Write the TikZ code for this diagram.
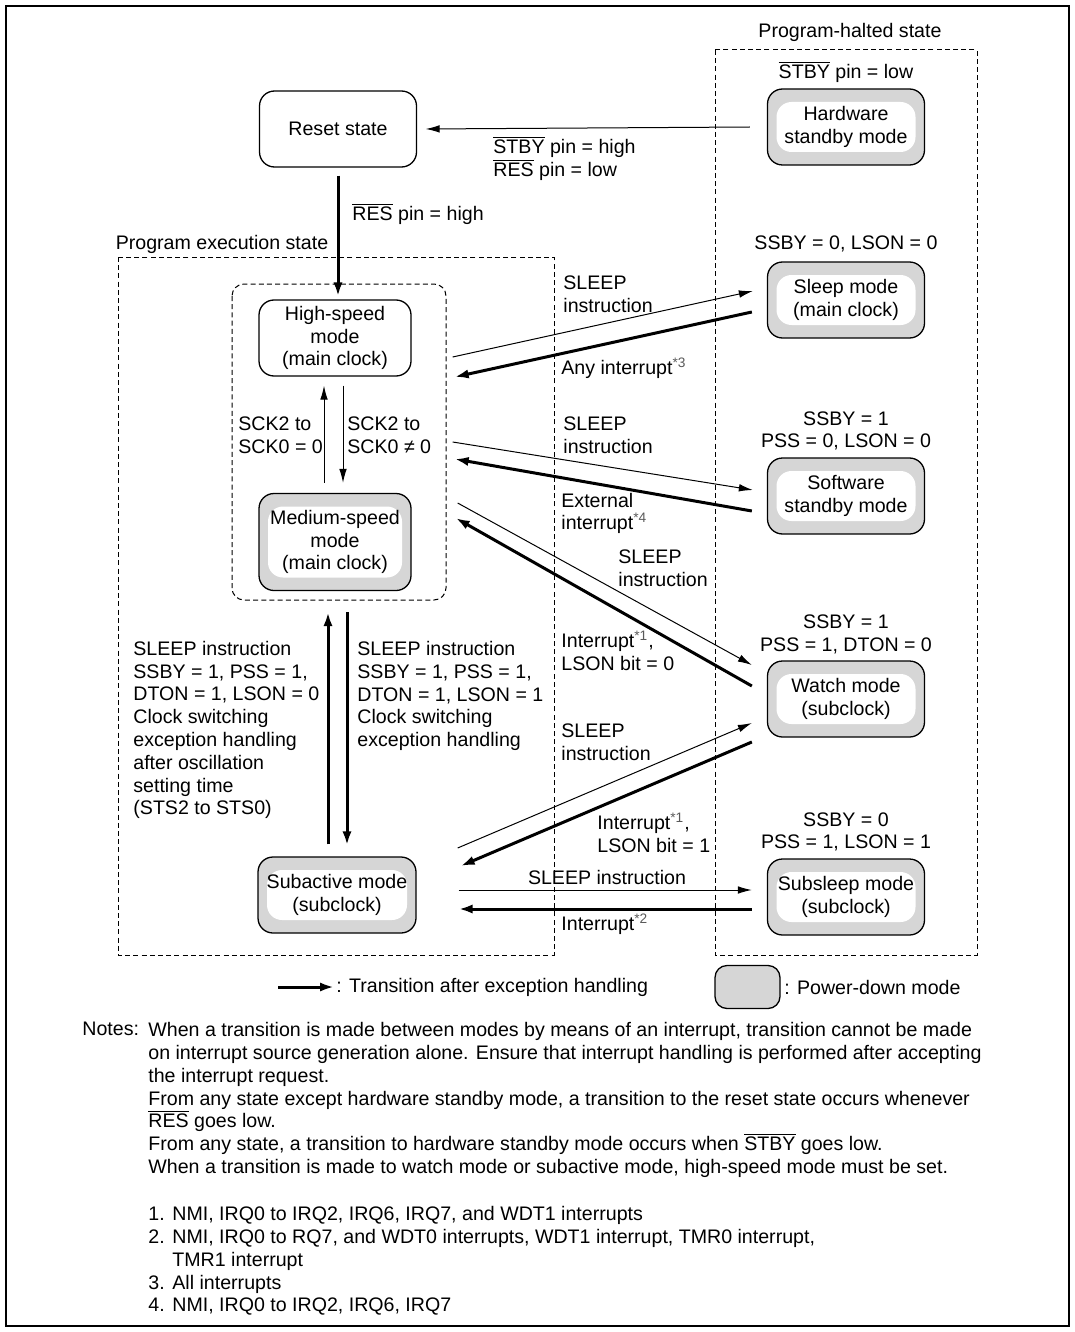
\documentclass[tikz,border=0pt]{standalone}
\usepackage{fontspec}
\setmainfont{Liberation Sans}
\usetikzlibrary{arrows.meta}
\definecolor{pdgray}{RGB}{214,214,214}
\newcommand\lowsig[1]{$\overline{\hbox{#1}}$}
\newcommand\fnref[1]{\textsuperscript{\textcolor{black!65}{*#1}}}
\newcommand\itm[1]{\makebox[12pt][l]{#1}}
\tikzset{
  modebox/.style={draw,line width=0.65pt,rounded corners=7.5pt,align=center,inner sep=0pt,minimum width=78.5pt,minimum height=38pt},
  pdmode/.style={modebox,fill=pdgray,path picture={\fill[white] ([shift={(4.5pt,-6.5pt)}]path picture bounding box.north west) rectangle ([shift={(-4.5pt,6.5pt)}]path picture bounding box.south east);}},
  lbl/.style={inner sep=0pt,align=left,anchor=west},
  clbl/.style={inner sep=0pt,align=center},
  go/.style={line width=0.5pt,-{Latex[length=7pt,width=3.8pt]}},
  goex/.style={line width=1.5pt,-{Latex[length=7pt,width=4.6pt]}},
  region/.style={line width=0.5pt,dash pattern=on 2.5pt off 1.6pt}
}

\begin{document}
\begin{tikzpicture}[x=0.5pt,y=-0.5pt,every node/.style={font=\fontsize{9.8pt}{11.4pt}\selectfont}]
  \useasboundingbox (0,0) rectangle (1075,1332);
  \draw[line width=0.85pt] (6,6) rectangle (1069,1326);

  % halted / execution areas
  \draw[region] (715,50) rectangle (977,955);
  \draw[region] (118,257) rectangle (554,955);
  \draw[region,rounded corners=6pt] (232,284) rectangle (446,600);
  \node[clbl] (haltlbl) at (850,32) {Program-halted state};
  \node[clbl] (execlbl) at (222,244) {Program execution state};

  \node[modebox] (reset) at (338,129) {Reset state};
  \node[modebox,minimum width=76pt] (high) at (335,338) {High-speed\\mode\\(main clock)};
  \node[pdmode,minimum width=76pt,minimum height=48.5pt] (medium) at (335,542) {Medium-speed\\mode\\(main clock)};
  \node[pdmode,minimum width=79pt] (subact) at (337,895) {Subactive mode\\(subclock)};

  \node[pdmode] (hwstby) at (846,127) {Hardware\\standby mode};
  \node[pdmode] (sleep) at (846,300) {Sleep mode\\(main clock)};
  \node[pdmode] (swstby) at (846,496) {Software\\standby mode};
  \node[pdmode] (watch) at (846,699) {Watch mode\\(subclock)};
  \node[pdmode] (subsleep) at (846,897) {Subsleep mode\\(subclock)};

  \node[clbl] (hwcond) at (846,72) {\lowsig{STBY} pin = low};
  \node[clbl] (sleepcond) at (846,244) {SSBY = 0, LSON = 0};
  \node[clbl] (swcond) at (846,431) {SSBY = 1\\PSS = 0, LSON = 0};
  \node[clbl] (watchcond) at (846,634.5) {SSBY = 1\\PSS = 1, DTON = 0};
  \node[clbl] (subslcond) at (846,832) {SSBY = 0\\PSS = 1, LSON = 1};

  % reset and clock change
  \draw[go] ([shift={(-17,0)}]hwstby.west) -- ([shift={(8.5,0)}]reset.east);
  \node[lbl] (resetlbl) at (493,158.5) {\lowsig{STBY} pin = high\\\lowsig{RES} pin = low};
  \draw[goex] ([shift={(0,8)}]reset.south) -- ([shift={(0,-3)}]reset.south |- high.north);
  \node[lbl] (reslbl) at (352,214) {\lowsig{RES} pin = high};

  \draw[go] ([shift={(-11,-10)}]medium.north) -- ([shift={(-11,9)}]high.south);
  \draw[go] ([shift={(8,9)}]high.south) -- ([shift={(8,-10)}]medium.north);
  \node[lbl] (sckup) at (238,435.5) {SCK2 to\\SCK0 = 0};
  \node[lbl] (sckdn) at (347,435.5) {SCK2 to\\SCK0 ≠ 0};

  \draw[goex] ([shift={(-9,-12)}]subact.north) -- ([shift={(-7,21)}]medium.south);
  \draw[goex] ([shift={(12,21)}]medium.south) -- ([shift={(10,-11)}]subact.north);
  \node[lbl] (subuplbl) at (133,730) {SLEEP instruction\\SSBY = 1, PSS = 1,\\DTON = 1, LSON = 0\\Clock switching\\exception handling\\after oscillation\\setting time\\(STS2 to STS0)};
  \node[lbl] (subdnlbl) at (357,696) {SLEEP instruction\\SSBY = 1, PSS = 1,\\DTON = 1, LSON = 1\\Clock switching\\exception handling};

  % to and from the halted modes
  \draw[go] ([shift={(41,19)}]high.east) -- ([shift={(-14,-9)}]sleep.west);
  \draw[goex] ([shift={(-15,12)}]sleep.west) -- ([shift={(43,39)}]high.east);
  \node[lbl] (sleeplbl) at (563,294.5) {SLEEP\\instruction};
  \node[lbl] (anylbl) at (561,368) {Any interrupt\fnref{3}};

  \draw[go] ([shift={(41,104)}]high.east) -- ([shift={(-14,-6)}]swstby.west);
  \draw[goex] ([shift={(-15,15)}]swstby.west) -- ([shift={(43,121)}]high.east);
  \node[lbl] (swlbl) at (563,435) {SLEEP\\instruction};
  \node[lbl] (extlbl) at (561,513.5) {External\\interrupt\fnref{4}};

  \draw[go] ([shift={(46,-39)}]medium.east) -- ([shift={(-15,-34)}]watch.west);
  \draw[goex] ([shift={(-15,-13)}]watch.west) -- ([shift={(44,-24)}]medium.east);
  \node[lbl] (watchlbl) at (618,568.5) {SLEEP\\instruction};
  \node[lbl] (intalbl) at (561,650.5) {Interrupt\fnref{1},\\LSON bit = 0};

  \draw[go] ([shift={(41,-47)}]subact.east) -- ([shift={(-15,24)}]watch.west);
  \draw[goex] ([shift={(-15,43)}]watch.west) -- ([shift={(44,-29)}]subact.east);
  \node[lbl] (subwlbl) at (561,742.5) {SLEEP\\instruction};
  \node[lbl] (intblbl) at (597,832.5) {Interrupt\fnref{1},\\LSON bit = 1};

  \draw[go] ([shift={(42,-5)}]subact.east) -- ([shift={(-15,-7)}]subsleep.west);
  \draw[goex] ([shift={(-15,12)}]subsleep.west) -- ([shift={(42,14)}]subact.east);
  \node[clbl] (subsllbl) at (607,877) {SLEEP instruction};
  \node[lbl] (intclbl) at (561,924) {Interrupt\fnref{2}};

  % legend
  \coordinate (legA) at (278,987);
  \coordinate (legB) at (334,987);
  \draw[goex] (legA) -- (legB);
  \node[lbl] (legarr) at (336,987) {: Transition after exception handling};
  \node[draw,line width=0.65pt,fill=pdgray,rounded corners=6pt,minimum width=32.5pt,minimum height=21.5pt,inner sep=0pt] (legbox) at (747.5,987) {};
  \node[lbl] (legpd) at (784,987) {: Power-down mode};

  % notes
  \node[anchor=north west,inner sep=0pt] (noteshead) at (82,1022) {Notes:};
  \node[anchor=north west,inner sep=0pt,align=left] (notes) at (148,1022) {When a transition is made between modes by means of an interrupt, transition cannot be made\\on interrupt source generation alone. Ensure that interrupt handling is performed after accepting\\the interrupt request.\\From any state except hardware standby mode, a transition to the reset state occurs whenever\\\lowsig{RES} goes low.\\From any state, a transition to hardware standby mode occurs when \lowsig{STBY} goes low.\\When a transition is made to watch mode or subactive mode, high-speed mode must be set.};
  \node[anchor=north west,inner sep=0pt,align=left] (list) at (148,1206) {\itm{1.}NMI, IRQ0 to IRQ2, IRQ6, IRQ7, and WDT1 interrupts\\\itm{2.}NMI, IRQ0 to RQ7, and WDT0 interrupts, WDT1 interrupt, TMR0 interrupt,\\\itm{}TMR1 interrupt\\\itm{3.}All interrupts\\\itm{4.}NMI, IRQ0 to IRQ2, IRQ6, IRQ7};
\end{tikzpicture}
\end{document}
